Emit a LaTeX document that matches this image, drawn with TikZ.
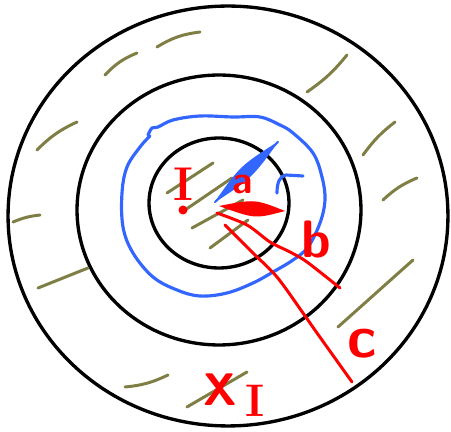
\documentclass[tikz,border=0pt]{standalone}
\usetikzlibrary{positioning}
\definecolor{hatcholive}{HTML}{7F7F45}
\definecolor{penblue}{HTML}{3366FF}
\definecolor{penred}{HTML}{FF0000}
\tikzset{
    ring/.style={
        draw=black,
        line width=1.9pt
    },
    hatch/.style={
        draw=hatcholive,
        line width=1.7pt,
        line cap=round
    },
    redpen/.style={
        draw=penred,
        line width=1.7pt,
        line cap=round,
        line join=round
    },
    bluepen/.style={
        draw=penblue,
        line width=1.8pt,
        line cap=round,
        line join=round
    },
    redlabel/.style={
        text=penred,
        inner sep=0pt
    }
}
\begin{document}
\begin{tikzpicture}[x=0.02cm,y=-0.02cm]
    \useasboundingbox (0,0) rectangle (451,432);

    % three rings
    \coordinate (outerc) at (228,216);
    \coordinate (middlec) at (219,210);
    \coordinate (innerc) at (219,203);
    \draw[ring] (outerc) ellipse [x radius=4.4cm,y radius=4.2cm];
    \draw[ring] (middlec) ellipse [x radius=2.84cm,y radius=2.7cm];
    \draw[ring] (innerc) ellipse [x radius=1.4cm,y radius=1.3cm];

    % olive hatching, outer band
    \draw[hatch] (157,47) to[bend left=12] (200,32);
    \draw[hatch] (105,75) to[bend left=12] (137,53);
    \draw[hatch] (37,150) to[bend left=10] (77,122);
    \draw[hatch] (13,222) to[bend left=8] (40,215);
    \draw[hatch] (38,288) -- (88,268);
    \draw[hatch] (125,387) to[bend right=10] (168,375);
    \draw[hatch] (187,407) -- (247,372);
    \draw[hatch] (307,92) to[bend right=8] (347,55);
    \draw[hatch] (363,155) to[bend left=8] (395,122);
    \draw[hatch] (383,200) to[bend left=10] (417,178);
    \draw[hatch] (338,327) -- (413,260);

    % olive hatching, inner disc
    \draw[hatch] (167,193) -- (213,163);
    \draw[hatch] (185,210) -- (232,178);
    \draw[hatch] (192,228) -- (243,200);
    \draw[hatch] (210,248) -- (248,220);

    % blue loop
    \draw[bluepen] plot[smooth,tension=0.6] coordinates {
        (148,135) (152,128) (158,127) (173,120) (200,116) (233,117)
        (260,117) (280,125) (293,133) (313,153) (322,177) (325,200)
        (320,223) (308,247) (293,260) (273,272) (253,283) (227,293)
        (200,296) (177,290) (153,277) (133,253) (123,227) (122,193)
        (127,167) (140,147) (150,136)};
    \draw[bluepen] (277,193) .. controls (277,182) and (280,176) .. (286,175)
        -- (303,176);
    \fill[penblue] (214,203) .. controls (252,178) .. (279,141)
        .. controls (240,166) .. (214,203) -- cycle;
    \draw[bluepen,line width=1.2pt] (215,202) -- (278,142);

    % red radii
    \fill[penred] (219,206) .. controls (255,199) .. (285,211)
        .. controls (255,219) .. (219,206) -- cycle;
    \draw[redpen] plot[smooth] coordinates {
        (217,213) (247,225) (270,242) (290,252) (307,262) (340,288)};
    \draw[redpen] plot[smooth] coordinates {
        (225,225) (253,253) (277,277) (303,313) (317,333) (352,382)};
    \fill[penred] (183,210) circle [radius=0.09cm];

    % red labels
    \node[redlabel,font=\bfseries\fontsize{27}{30}\selectfont] (labI) at (183,184) {I};
    \node[redlabel,font=\sffamily\bfseries\fontsize{22}{26}\selectfont] (laba) at (243,185) {a};
    \node[redlabel,font=\sffamily\bfseries\fontsize{30}{34}\selectfont] (labb) at (316,240) {b};
    \node[redlabel,font=\sffamily\bfseries\fontsize{34}{38}\selectfont] (labc) at (362,344) {c};
    \node[redlabel,font=\sffamily\bfseries\fontsize{26}{30}\selectfont] (labX) at (220,390) {X};
    \node[redlabel,font=\bfseries\fontsize{26}{30}\selectfont] (labXI) at (255,401) {I};
\end{tikzpicture}
\end{document}
